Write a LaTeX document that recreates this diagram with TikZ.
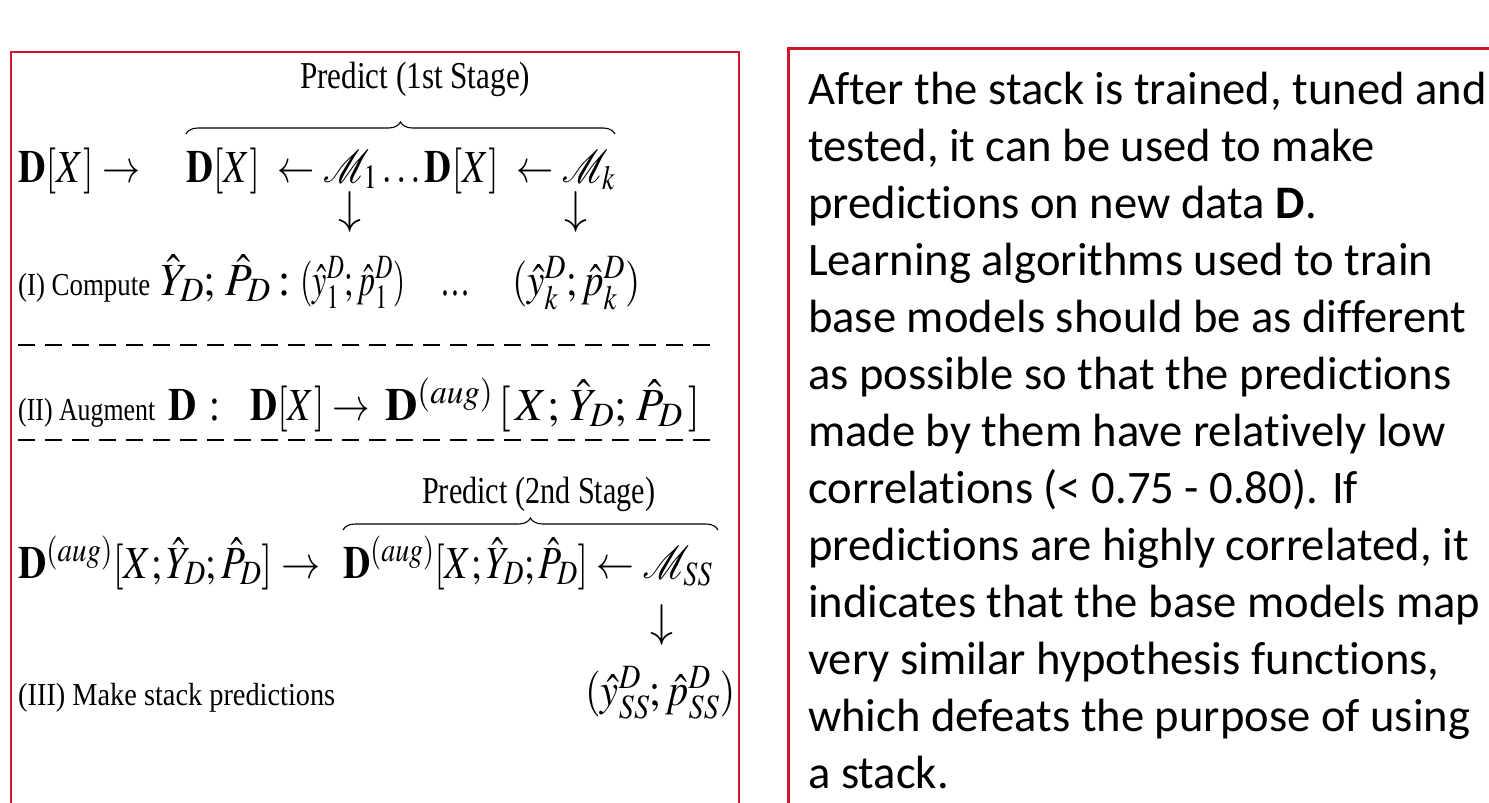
\documentclass[tikz,border=0pt]{standalone}
\usepackage{mathptmx}
\usepackage[no-math]{fontspec}
\setmainfont{Liberation Serif}
\newfontfamily\calib[Ligatures=NoCommon]{Carlito}
\usetikzlibrary{decorations.pathreplacing}
\definecolor{boxred}{RGB}{208,22,44}
\newcommand\fitw[2]{\resizebox{#1pt}{\height}{#2}}
\begin{document}
\begin{tikzpicture}[x=1pt,y=-1pt,
  mrow/.style={inner sep=0pt, anchor=base west, font=\fontsize{46}{54}\selectfont},
  lbl/.style={inner sep=0pt, anchor=base west, font=\fontsize{32}{38}\selectfont},
  ttl/.style={inner sep=0pt, anchor=base west, font=\fontsize{38}{44}\selectfont},
  dnarrow/.style={inner sep=0pt, anchor=center, font=\fontsize{46}{54}\selectfont},
  brc/.style={decorate, decoration={brace, amplitude=12pt}, line width=1.1pt},
  sep/.style={line width=2.2pt, dash pattern=on 17pt off 10pt},
  frame/.style={draw=boxred, line width=2.5pt}]
\useasboundingbox (0,0) rectangle (1489,803);
% frames
\draw[frame] (11,52) rectangle (739,830);
\draw[frame, line width=3pt] (788,48) rectangle (1500,830);
% first stage
\node[ttl] (p1) at (300,88) {\fitw{230}{Predict (1st Stage)}};
\coordinate (b1s) at (186,134);
\coordinate (b1e) at (615,134);
\draw[brc] (b1s) -- (b1e);
\node[mrow] (r1a) at (18,182) {\fitw{122}{$\mathbf{D}[X]\rightarrow$}};
\node[mrow] (r1b) at (186,182) {\fitw{429}{$\mathbf{D}[X]\ \leftarrow \mathcal{M}_1 \ldots \mathbf{D}[X]\ \leftarrow \mathcal{M}_k$}};
\node[dnarrow] (d1) at (350,212) {$\downarrow$};
\node[dnarrow] (d2) at (576,212) {$\downarrow$};
\node[lbl] (c1) at (18,295) {\fitw{132}{(I) Compute}};
\node[mrow] (c2) at (160,295) {\fitw{130}{$\hat{Y}_D;\,\hat{P}_D$\,:}};
\node[mrow] (c3) at (300,295) {\fitw{105}{$(\hat{y}_1^D;\hat{p}_1^D)$}};
\node[mrow] (c4) at (440,295) {\fitw{30}{\ldots}};
\node[mrow] (c5) at (512,295) {\fitw{128}{$(\hat{y}_k^D;\hat{p}_k^D)$}};
\coordinate (h1a) at (18,345);
\coordinate (h1b) at (714,345);
\draw[sep] (h1a) -- (h1b);
% augment
\node[lbl] (a1) at (18,420) {\fitw{137}{(II) Augment}};
\node[mrow] (a2) at (168,420) {\fitw{52}{$\mathbf{D}$\,\,:}};
\node[mrow] (a3) at (250,420) {\fitw{120}{$\mathbf{D}[X]\rightarrow$}};
\node[mrow] (a4) at (385,420) {\fitw{315}{$\mathbf{D}^{(aug)}\,[\,X;\,\hat{Y}_D;\,\hat{P}_D\,]$}};
\coordinate (h2a) at (18,440);
\coordinate (h2b) at (714,440);
\draw[sep] (h2a) -- (h2b);
% second stage
\node[ttl] (p2) at (422,503) {\fitw{233}{Predict (2nd Stage)}};
\coordinate (b2s) at (343,530);
\coordinate (b2e) at (718,530);
\draw[brc] (b2s) -- (b2e);
\node[mrow] (s1) at (18,578) {\fitw{302}{$\mathbf{D}^{(aug)}[X;\hat{Y}_D;\hat{P}_D]\rightarrow$}};
\node[mrow] (s2) at (343,578) {\fitw{369}{$\mathbf{D}^{(aug)}[X;\hat{Y}_D;\hat{P}_D]\leftarrow\mathcal{M}_{SS}$}};
\node[dnarrow] (d3) at (662,625) {$\downarrow$};
\node[lbl] (m1) at (18,705) {\fitw{317}{(III) Make stack predictions}};
\node[mrow] (m2) at (585,705) {\fitw{150}{$(\hat{y}_{SS}^D;\hat{p}_{SS}^D)$}};
% right text
\node[inner sep=0pt, anchor=north west, align=left, font=\calib\fontsize{46.6}{57}\selectfont] (txt) at (808,72) {After the stack is trained, tuned and\\
tested, it can be used to make\\
predictions on new data \textbf{D}.\\
Learning algorithms used to train\\
base models should be as different\\
as possible so that the predictions\\
made by them have relatively low\\
correlations (< 0.75 - 0.80). If\\
predictions are highly correlated, it\\
indicates that the base models map\\
very similar hypothesis functions,\\
which defeats the purpose of using\\
a stack.};
\end{tikzpicture}
\end{document}
